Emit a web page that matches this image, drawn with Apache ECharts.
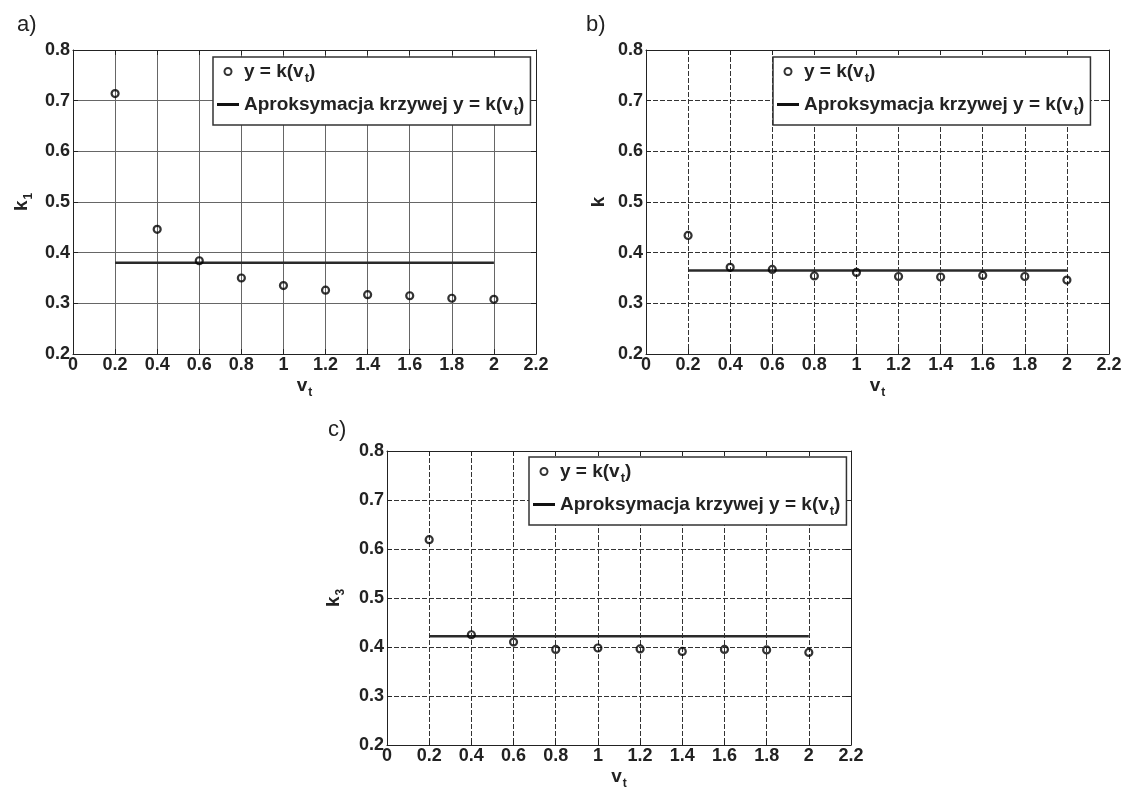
<!DOCTYPE html>
<html>
<head>
<meta charset="utf-8">
<script src="https://cdn.jsdelivr.net/npm/echarts@6/dist/echarts.min.js"></script>
<style>
  html, body { margin: 0; padding: 0; background: #fff; }
  #chart { width: 1126px; height: 791px; }
</style>
</head>
<body>
<div id="chart"></div>
<script>
// ---- data ----
const vt = [0.2, 0.4, 0.6, 0.8, 1.0, 1.2, 1.4, 1.6, 1.8, 2.0];
const kA = [0.714, 0.446, 0.384, 0.350, 0.335, 0.326, 0.317, 0.315, 0.310, 0.308];
const fitA = 0.380;
const kB = [0.434, 0.371, 0.367, 0.354, 0.361, 0.353, 0.352, 0.355, 0.353, 0.346];
const fitB = 0.365;
const kC = [0.619, 0.425, 0.410, 0.395, 0.398, 0.396, 0.391, 0.395, 0.394, 0.389];
const fitC = 0.422;
const panelLabels = ['a)', 'b)', 'c)'];
const yNames = ['{m|k}{s|1}', '{m|k}', '{m|k}{s|3}'];
const xName = '{m|v}{s|t}';
const nameScatter = 'y = k(v_t)';
const nameLine = 'Aproksymacja krzywej y = k(v_t)';
const xMin = 0, xMax = 2.2, xStep = 0.2;
const yMin = 0.2, yMax = 0.8, yStep = 0.1;

const FONT = '"Liberation Sans", Arial, Helvetica, sans-serif';
const INK = '#222';

const grids = [
  { left: 73, top: 50, width: 463, height: 304 },
  { left: 646, top: 50, width: 463, height: 304 },
  { left: 387, top: 451, width: 464, height: 303 }
];
const legendPos = [
  { left: 213, top: 57 },
  { left: 773, top: 57 },
  { left: 529, top: 457 }
];
const labelPos = [[17, 26], [586, 26], [328, 431]];
const yNameGap = [38, 38, 40];
const gridStyles = [
  { color: '#666', width: 1, type: 'solid' },
  { color: '#333', width: 1, type: [5, 2] },
  { color: '#333', width: 1, type: [5, 2] }
];

const nameRich = {
  m: { fontFamily: FONT, fontWeight: 'bold', fontSize: 19, color: INK },
  s: { fontFamily: FONT, fontWeight: 'bold', fontSize: 12, color: INK, padding: [14, 0, 0, 1] }
};
const legendRich = {
  n: { fontFamily: FONT, fontWeight: 'bold', fontSize: 19, color: INK },
  s: { fontFamily: FONT, fontWeight: 'bold', fontSize: 13, color: INK, padding: [14, 0, 0, 1] }
};
function richName(n) {
  const i = n.indexOf('_');
  return '{n|' + n.slice(0, i) + '}{s|' + n.charAt(i + 1) + '}{n|' + n.slice(i + 2) + '}';
}
const fmt = v => String(+v.toFixed(1));

const xAxes = [], yAxes = [], series = [], legends = [], graphics = [];
const datasets = [[kA, fitA], [kB, fitB], [kC, fitC]];

grids.forEach((g, i) => {
  xAxes.push({
    gridIndex: i, type: 'value', position: 'bottom', min: xMin, max: xMax, interval: xStep,
    axisLine: { show: true, onZero: false, lineStyle: { color: INK, width: 1 } },
    axisTick: { show: true, inside: true, length: 5, lineStyle: { color: INK } },
    axisLabel: { fontFamily: FONT, fontWeight: 'bold', fontSize: 18, color: INK, margin: 2, formatter: fmt },
    splitLine: { show: true, lineStyle: gridStyles[i] },
    name: xName, nameLocation: 'middle', nameGap: 19,
    nameTextStyle: { rich: nameRich }
  });
  xAxes.push({
    gridIndex: i, type: 'value', position: 'top', min: xMin, max: xMax, interval: xStep,
    axisLine: { show: true, onZero: false, lineStyle: { color: INK, width: 1 } },
    axisTick: { show: true, inside: true, length: 5, lineStyle: { color: INK } },
    axisLabel: { show: false }, splitLine: { show: false }
  });
  yAxes.push({
    gridIndex: i, type: 'value', position: 'left', min: yMin, max: yMax, interval: yStep,
    axisLine: { show: true, onZero: false, lineStyle: { color: INK, width: 1 } },
    axisTick: { show: true, inside: true, length: 5, lineStyle: { color: INK } },
    axisLabel: { fontFamily: FONT, fontWeight: 'bold', fontSize: 18, color: INK, margin: 3, formatter: fmt },
    splitLine: { show: true, lineStyle: gridStyles[i] },
    name: yNames[i], nameLocation: 'middle', nameGap: yNameGap[i],
    nameTextStyle: { rich: nameRich }
  });
  yAxes.push({
    gridIndex: i, type: 'value', position: 'right', min: yMin, max: yMax, interval: yStep,
    axisLine: { show: true, onZero: false, lineStyle: { color: INK, width: 1 } },
    axisTick: { show: true, inside: true, length: 5, lineStyle: { color: INK } },
    axisLabel: { show: false }, splitLine: { show: false }
  });

  const [vals, fit] = datasets[i];
  series.push({
    name: nameLine, type: 'line', xAxisIndex: 2 * i, yAxisIndex: 2 * i,
    data: [[vt[0], fit], [vt[vt.length - 1], fit]],
    symbol: 'none', itemStyle: { color: '#111' },
    lineStyle: { color: '#2a2a2a', width: 2.5 }, z: 3, silent: true
  });
  series.push({
    name: nameScatter, type: 'scatter', xAxisIndex: 2 * i, yAxisIndex: 2 * i,
    data: vt.map((x, j) => [x, vals[j]]),
    symbol: 'circle', symbolSize: 7,
    itemStyle: { color: 'rgba(255,255,255,0)', borderColor: '#000', borderWidth: 2.2 }, z: 4, silent: true
  });

  legends.push({
    left: legendPos[i].left, top: legendPos[i].top, orient: 'vertical',
    backgroundColor: '#fff', borderColor: '#333', borderWidth: 1.5,
    padding: [5, 6, 7, 4], itemGap: 10, itemWidth: 22, itemHeight: 7,
    selectedMode: false,
    data: [
      { name: nameScatter, icon: 'circle', itemStyle: { color: '#fff', borderColor: '#000', borderWidth: 2 } },
      { name: nameLine, icon: 'path://M0,0H22V3H0Z', itemStyle: { color: '#111', borderWidth: 0 } }
    ],
    formatter: richName,
    textStyle: { rich: legendRich }
  });

  graphics.push({
    type: 'text', left: labelPos[i][0], top: labelPos[i][1] - 12,
    style: { text: panelLabels[i], fontFamily: FONT, fontSize: 22, fill: INK }
  });
});

const chart = echarts.init(document.getElementById('chart'), null, { renderer: 'canvas' });
chart.setOption({
  animation: false,
  backgroundColor: '#fff',
  grid: grids,
  xAxis: xAxes,
  yAxis: yAxes,
  legend: legends,
  series: series,
  graphic: graphics
});
</script>
</body>
</html>
